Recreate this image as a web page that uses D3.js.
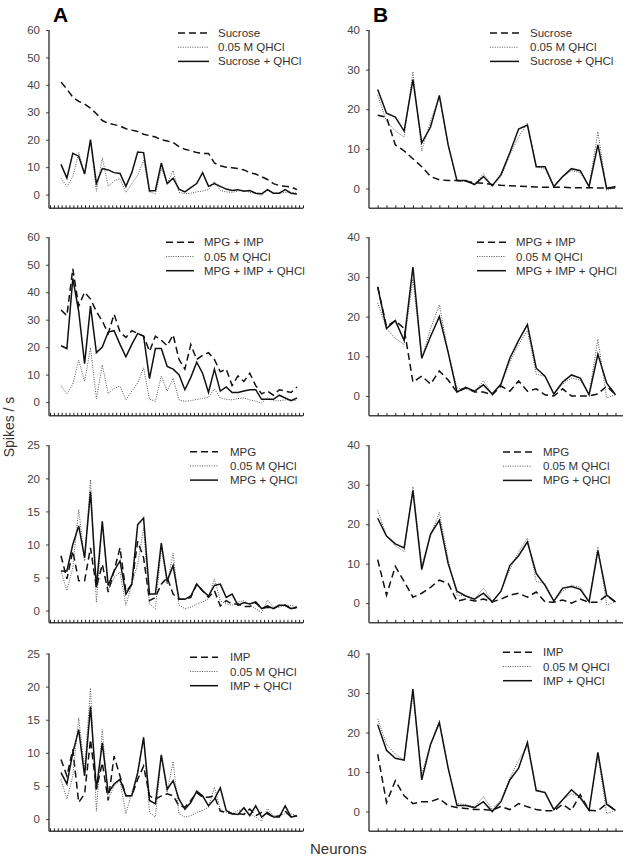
<!DOCTYPE html>
<html><head><meta charset="utf-8">
<script src="https://cdn.jsdelivr.net/npm/d3@7"></script>
<style>body{margin:0;background:#fff}svg{display:block;font-family:"Liberation Sans",Arial,sans-serif}</style>
</head><body><svg id="c" width="626" height="860"></svg>
<script>
// ---------- data ----------
const neuronsA = d3.range(1, 42);   // 41 neurons (column A)
const neuronsB = d3.range(1, 29);   // 28 neurons (column B)
const yTicksA12 = [0, 10, 20, 30, 40, 50, 60];
const yTicksA34 = [0, 5, 10, 15, 20, 25];
const yTicksB = [0, 10, 20, 30, 40];
const panelLetters = ["A", "B"];
const xTitle = "Neurons";
const yTitle = "Spikes / s";

const qhclA = [6, 3, 6.5, 15.3, 7.5, 19.8, 1.2, 13.5, 3, 5, 5.8, 0.8, 4, 7, 12.5, 1, 0.3, 9.5, 4, 8.7, 0.8, 0.3, 0.5, 1, 1.3, 1.8, 4.8, 1.5, 1, 0.8, 1.3, 1.5, 0.8, 0.3, -0.3, 1.6, 0.5, 0.5, 0.8, 0.8, 0.5];
const sucroseA = [41, 38.5, 35.5, 34, 33, 31.5, 29.5, 27, 26, 25.5, 25, 24, 23.5, 23, 22, 21.5, 21, 20, 19.5, 19, 17.5, 16.5, 16, 15.3, 15, 15, 11.5, 10.5, 10, 9.8, 9.5, 9, 8, 7.5, 6.5, 5.5, 4, 3.3, 3, 2.8, 1.8];
const sucroseQA = [11, 6, 15, 14, 7.5, 20, 4, 9.5, 9, 8, 7.7, 3, 8, 15.5, 15.3, 1.3, 1.5, 11.5, 4, 6, 2, 1, 2.5, 4, 8, 3, 4, 3, 2, 1.5, 1.8, 1.2, 1.5, 0.5, 0.3, 1.8, 0.5, 0.5, 1.8, 0.5, 0.2];
const mpgImpA = [33.5, 31.5, 48.5, 35, 40, 37.5, 33, 29.5, 25, 32, 25.5, 23.5, 26, 25, 24, 18.5, 24, 22.5, 20.5, 24.5, 15.5, 12, 21, 15.5, 17, 18, 15.5, 11, 12, 6, 9.5, 7.5, 10.5, 6, 3, 4, 2.5, 4.5, 4, 3.5, 5.5];
const mpgImpQA = [20.5, 19.5, 45, 33, 14, 35, 18, 20, 25.5, 26, 21, 16.5, 21, 25, 24, 8.5, 19.5, 19.5, 13, 12, 10, 4.5, 9, 14.5, 10.5, 3.5, 12, 4, 5.5, 3.5, 3.5, 4, 4.5, 4.5, 1, 1, 1, 2.5, 1.5, 0.5, 1.5];
const mpgA = [8.3, 4.8, 9, 4.5, 4.5, 9.5, 3.5, 7, 2.8, 6, 9.5, 2.8, 4, 10.5, 8, 1.5, 2, 4, 5, 2.5, 1.7, 1.7, 2, 4, 3, 2, 3, 0.7, 1.5, 1, 1, 0.6, 0.6, 1.2, 0.3, 0.5, 0.3, 0.8, 0.8, 0.3, 0.5];
const mpgQA = [6, 6, 10, 12.8, 8, 18, 3.5, 13.5, 3.8, 6, 7.5, 2.5, 4, 13, 14, 2.5, 2.5, 10.2, 4.5, 6.8, 1.7, 1.7, 2.2, 4, 3, 2.2, 3.8, 4, 2, 2.5, 0.8, 1.2, 1, 1.3, 0.3, 0.7, 0.3, 0.8, 0.8, 0.3, 0.5];
const impA = [9, 6.5, 10.5, 2.5, 3.8, 12, 4.5, 8.5, 2.8, 9.5, 6.5, 3.5, 3.5, 6, 8, 3.5, 3, 3.5, 3.8, 3.5, 2, 1.8, 2.8, 4, 3.3, 3.3, 3.5, 1.2, 1, 0.8, 0.8, 0.7, 1.5, 0.5, 1, 0.8, 0.3, 0.5, 1.2, 0.3, 0.5];
const impQA = [7, 5.3, 10, 13.5, 6.5, 17, 4.5, 11.5, 4, 5.3, 6, 3.5, 3.5, 7, 12.3, 2.8, 2.3, 9.7, 4.5, 5.8, 3, 1.5, 2.5, 4.2, 3.5, 2, 3, 4.7, 1.3, 0.8, 0.7, 1.7, 0.5, 2, 0.3, 1, 0.3, 0.3, 2, 0.3, 0.5];

const qhclB = [23.5, 17, 14.5, 13, 29.5, 9.5, 17, 23, 11, 2, 1.8, 1, 3.8, 0.5, 3, 8.5, 13, 16.5, 5.5, 5, 0.5, 3, 4.5, 4, 0.5, 14.3, -0.5, 0.3];
const sucroseB = [18.5, 18, 11, 9.5, 7.5, 5.5, 3, 2.2, 2, 2, 1.8, 1.5, 1.3, 1, 0.8, 0.7, 0.6, 0.5, 0.4, 0.3, 0.3, 0.3, 0.2, 0.2, 0.2, 0.1, 0.1, 0.1];
const sucroseQB = [25, 19, 18, 14.5, 27.5, 11.5, 15.5, 23.5, 11, 2, 2, 1, 3, 0.7, 3.5, 9, 15, 16, 5.5, 5.5, 0.5, 3, 5, 4.5, 0.5, 11, 0, 0.5];
const mpgImpB = [27.5, 17.5, 19, 17, 3.5, 5, 3, 6.3, 4, 1, 2, 1, 1, 0.3, 2.5, 1.2, 3.8, 1.2, 1.8, 0.3, 0, 1.8, 0, 0, 0, 0.5, 2.5, 0.3];
const mpgImpQB = [27.5, 17, 19, 14, 32.5, 9.5, 15, 20, 11, 1, 2.2, 1.2, 2.8, 0.5, 3, 9.5, 14, 18, 7, 5, 0.5, 3.5, 5.3, 4.5, 0.3, 10.5, 3.2, 0.3];
const mpgB = [11, 2, 9.3, 5.5, 1.5, 2.5, 4, 5.8, 5, 0.5, 1, 0.5, 1, 0.3, 1, 2, 2.5, 1.5, 2.8, 0.3, 0.2, 0.8, 0, 1, 0.2, 0.2, 2, 0.2];
const mpgQB = [21.5, 17, 15, 14, 28.5, 8.5, 17.5, 21, 10, 3, 1.8, 1, 2.5, 0.3, 3, 9.5, 12, 15.5, 7.5, 4.5, 0.5, 3.8, 4.2, 3.5, 0.3, 13.3, 2, 0.3];
const impB = [14.5, 2.3, 7.8, 4, 2, 2.5, 2.5, 3.3, 1.5, 1, 0.8, 0.5, 0.5, 0.3, 1.3, 0.5, 2, 1.2, 0.5, 0.2, 0.2, 1.8, 0.3, 4.3, 0.3, 0.2, 2, 0.2];
const impQB = [22, 15.5, 13.5, 13, 31, 8, 17, 22.5, 11, 1.5, 1.5, 1, 2.5, 0, 2.5, 8, 11, 17.5, 5.3, 4.8, 0.5, 3, 5.5, 3.5, 0.3, 15, 1.8, 0.3];

const legendA = [["Sucrose", "0.05 M QHCl", "Sucrose + QHCl"],
                 ["MPG + IMP", "0.05 M QHCl", "MPG + IMP + QHCl"],
                 ["MPG", "0.05 M QHCl", "MPG + QHCl"],
                 ["IMP", "0.05 M QHCl", "IMP + QHCl"]];
const legendB = legendA;

// ---------- layout ----------
const svg = d3.select("#c");
const rowTop = [30, 237.3, 445.3, 653.5];
const rowBot = [208.3, 415.8, 622.8, 831.3];
const colA = {axisX0: 49, axisX1: 303, dataX0: 61, dataX1: 297, nTicks: 66, tickX0: 50, tickX1: 303};
const colB = {axisX0: 369, axisX1: 623, dataX0: 377.7, dataX1: 615.5, nTicks: 28, tickX0: 377.7, tickX1: 615.5};
const legPosA = [{x0: 178, x1: 209, tx: 218, y: 33},
                 {x0: 166, x1: 194, tx: 204, y: 242.3},
                 {x0: 190, x1: 218, tx: 230, y: 451.7},
                 {x0: 190, x1: 218, tx: 230, y: 657.3}];
const legPosB = [{x0: 490, x1: 519, tx: 530, y: 33},
                 {x0: 477, x1: 506, tx: 516, y: 242.3},
                 {x0: 503, x1: 532, tx: 543, y: 452},
                 {x0: 503, x1: 532, tx: 543, y: 652.3}];

const styles = [
  {dash: "7,4", width: 1.5, color: "#111"},
  {dash: "1,1.4", width: 1, color: "#555"},
  {dash: null, width: 1.5, color: "#111"}
];

const panels = [
  {col: colA, row: 0, x: neuronsA, dom: [-5, 60], ticks: yTicksA12, series: [sucroseA, qhclA, sucroseQA], leg: legendA[0], lp: legPosA[0]},
  {col: colA, row: 1, x: neuronsA, dom: [-5, 60], ticks: yTicksA12, series: [mpgImpA, qhclA, mpgImpQA], leg: legendA[1], lp: legPosA[1]},
  {col: colA, row: 2, x: neuronsA, dom: [-1.85, 25], ticks: yTicksA34, series: [mpgA, qhclA, mpgQA], leg: legendA[2], lp: legPosA[2]},
  {col: colA, row: 3, x: neuronsA, dom: [-1.85, 25], ticks: yTicksA34, series: [impA, qhclA, impQA], leg: legendA[3], lp: legPosA[3]},
  {col: colB, row: 0, x: neuronsB, dom: [-5, 40], ticks: yTicksB, series: [sucroseB, qhclB, sucroseQB], leg: legendB[0], lp: legPosB[0]},
  {col: colB, row: 1, x: neuronsB, dom: [-5, 40], ticks: yTicksB, series: [mpgImpB, qhclB, mpgImpQB], leg: legendB[1], lp: legPosB[1]},
  {col: colB, row: 2, x: neuronsB, dom: [-5, 40], ticks: yTicksB, series: [mpgB, qhclB, mpgQB], leg: legendB[2], lp: legPosB[2]},
  {col: colB, row: 3, x: neuronsB, dom: [-5, 40], ticks: yTicksB, series: [impB, qhclB, impQB], leg: legendB[3], lp: legPosB[3]}
];

panels.forEach(p => {
  const c = p.col;
  const top = rowTop[p.row], bot = rowBot[p.row];
  const x = d3.scalePoint().domain(p.x).range([c.dataX0, c.dataX1]);
  const y = d3.scaleLinear().domain(p.dom).range([bot, top]);
  const g = svg.append("g");

  // y axis
  const yAx = g.append("g").attr("transform", `translate(${c.axisX0},0)`)
    .call(d3.axisLeft(y).tickValues(p.ticks).tickSize(3).tickPadding(6).tickFormat(d3.format("d")));
  yAx.select(".domain").attr("d", `M0,${y(p.ticks[p.ticks.length - 1])}V${bot}`).attr("stroke", "#444").attr("stroke-width", 1.5);
  yAx.selectAll(".tick line").attr("stroke", "#444").attr("stroke-width", 1);
  yAx.selectAll(".tick text").attr("fill", "#444").style("font-size", "11.5px").style("font-family", '"Liberation Sans",Arial,sans-serif');

  // x axis with small ticks
  const tx = d3.scaleLinear().domain([0, c.nTicks - 1]).range([c.tickX0, c.tickX1]);
  const xAx = g.append("g").attr("transform", `translate(0,${bot})`)
    .call(d3.axisTop(tx).tickValues(d3.range(c.nTicks)).tickSize(3).tickFormat(""));
  xAx.select(".domain").attr("d", `M${c.axisX0},0H${c.axisX1}`).attr("stroke", "#444").attr("stroke-width", 1.5);
  xAx.selectAll(".tick line").attr("stroke", "#222").attr("stroke-width", 1);

  // lines
  const line = d3.line().x((d, i) => x(p.x[i])).y(d => y(d));
  p.series.forEach((s, k) => {
    const st = styles[k];
    g.append("path").datum(s).attr("d", line).attr("fill", "none")
      .attr("stroke", st.color).attr("stroke-width", st.width)
      .attr("stroke-dasharray", st.dash).attr("stroke-linejoin", "miter");
  });

  // legend
  p.leg.forEach((t, k) => {
    const st = styles[k];
    const yy = p.lp.y + k * 14.2;
    g.append("line").attr("x1", p.lp.x0).attr("x2", p.lp.x1).attr("y1", yy).attr("y2", yy)
      .attr("stroke", st.color).attr("stroke-width", st.width).attr("stroke-dasharray", st.dash);
    g.append("text").attr("x", p.lp.tx).attr("y", yy + 4).attr("fill", "#333")
      .style("font-size", "11.5px").text(t);
  });
});

// panel letters
svg.append("text").attr("x", 53).attr("y", 22).style("font-size", "21px").style("font-weight", "bold").text(panelLetters[0]);
svg.append("text").attr("x", 373).attr("y", 22).style("font-size", "21px").style("font-weight", "bold").text(panelLetters[1]);

// axis titles
svg.append("text").attr("transform", "translate(13.5,427) rotate(-90)").attr("text-anchor", "middle")
  .attr("fill", "#333").style("font-size", "14px").text(yTitle);
svg.append("text").attr("x", 310).attr("y", 854).attr("fill", "#333").style("font-size", "15px").text(xTitle);
</script></body></html>
